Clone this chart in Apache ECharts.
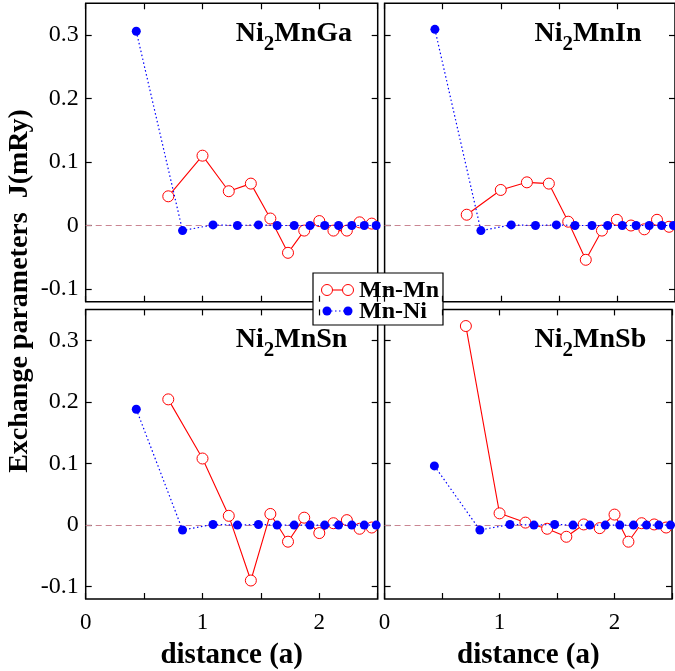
<!DOCTYPE html>
<html>
<head>
<meta charset="utf-8">
<script src="https://cdn.jsdelivr.net/npm/echarts@6/dist/echarts.min.js"></script>
<style>
html,body{margin:0;padding:0;background:#fff;}
#chart{width:675px;height:671px;}
</style>
</head>
<body>
<div id="chart"></div>
<script>
// ---- data ----
const distMnMn = [0.707, 1.000, 1.225, 1.414, 1.581, 1.732, 1.871, 2.000, 2.121, 2.236, 2.345, 2.449];
const distMnNi = [0.433, 0.829, 1.090, 1.299, 1.479, 1.639, 1.785, 1.920, 2.046, 2.165, 2.278, 2.385, 2.487];

const gaMnMn = [0.046, 0.110, 0.054, 0.066, 0.011, -0.043, -0.008, 0.007, -0.008, -0.008, 0.005, 0.003];
const gaMnNi = [0.306, -0.008, 0.001, 0.000, 0.001, 0.000, 0.000, 0.000, 0.000, 0.000, 0.000, 0.000, 0.000];
const inMnMn = [0.017, 0.056, 0.068, 0.066, 0.006, -0.054, -0.008, 0.009, 0.000, -0.006, 0.009, -0.002];
const inMnNi = [0.309, -0.008, 0.001, 0.000, 0.001, 0.000, 0.000, 0.000, 0.000, 0.000, 0.000, 0.000, 0.000];
const snMnMn = [0.204, 0.108, 0.015, -0.090, 0.018, -0.027, 0.012, -0.013, 0.003, 0.008, -0.006, -0.004];
const snMnNi = [0.188, -0.008, 0.001, 0.000, 0.001, 0.000, 0.000, 0.000, 0.000, 0.000, 0.000, 0.000, 0.000];
const sbMnMn = [0.323, 0.019, 0.004, -0.006, -0.019, 0.001, -0.005, 0.017, -0.027, 0.003, 0.001, -0.004];
const sbMnNi = [0.096, -0.008, 0.001, 0.000, 0.001, 0.000, 0.000, 0.000, 0.000, 0.000, 0.000, 0.000, 0.000];

const compoundSuffix = ['MnGa', 'MnIn', 'MnSn', 'MnSb'];
const seriesNames = ['Mn-Mn', 'Mn-Ni'];
const yTickValues = [-0.1, 0, 0.1, 0.2, 0.3];
const xTickLabels = ['0', '1', '2'];
const xAxisName = 'distance (a)';
const yAxisName = 'Exchange parameters  J(mRy)';

const mnMnSets = [gaMnMn, inMnMn, snMnMn, sbMnMn];
const mnNiSets = [gaMnNi, inMnNi, snMnNi, sbMnNi];

// ---- layout ----
const FONT = "'Liberation Serif','Times New Roman',serif";
const grids = [
  {left: 85.7, top: 3.3, width: 292, height: 298.4},
  {left: 384.6, top: 3.3, width: 292, height: 298.4},
  {left: 85.7, top: 309.4, width: 292, height: 298.9},
  {left: 384.6, top: 309.4, width: 292, height: 298.9}
];

const xAxes = [], yAxes = [], series = [], titles = [];
grids.forEach((g, i) => {
  const bottomRow = i >= 2, leftCol = i % 2 === 0;
  const tick = {show: true, inside: true, length: 6, lineStyle: {color: '#000', width: 1.2}};
  xAxes.push({
    gridIndex: i, type: 'value', min: 0, max: 2.5, interval: 0.5, position: 'bottom',
    axisLine: {show: false, onZero: false}, axisTick: tick, splitLine: {show: false},
    axisLabel: {show: bottomRow, margin: 12, color: '#000', fontFamily: FONT, fontSize: 23,
      formatter: v => xTickLabels.includes(String(v)) ? String(v) : ''},
    name: bottomRow ? xAxisName : '', nameLocation: 'middle', nameGap: 42,
    nameTextStyle: {fontFamily: FONT, fontWeight: 'bold', fontSize: 29, color: '#000'}
  });
  xAxes.push({
    gridIndex: i, type: 'value', min: 0, max: 2.5, interval: 0.5, position: 'top',
    axisLine: {show: false, onZero: false}, axisTick: tick, splitLine: {show: false}, axisLabel: {show: false}
  });
  yAxes.push({
    gridIndex: i, type: 'value', min: -0.12, max: 0.35, position: 'left',
    axisLine: {show: false, onZero: false}, splitLine: {show: false},
    axisTick: Object.assign({customValues: yTickValues}, tick),
    axisLabel: {show: leftCol, customValues: yTickValues, margin: 7, color: '#000', fontFamily: FONT, fontSize: 24,
      formatter: v => (Math.abs(v) < 1e-9 ? '0' : v.toFixed(1))}
  });
  yAxes.push({
    gridIndex: i, type: 'value', min: -0.12, max: 0.35, position: 'right',
    axisLine: {show: false, onZero: false}, splitLine: {show: false},
    axisTick: Object.assign({customValues: yTickValues}, tick),
    axisLabel: {show: false}
  });
  series.push({
    name: seriesNames[0], type: 'line', xAxisIndex: 2 * i, yAxisIndex: 2 * i,
    data: distMnMn.map((d, k) => [d, mnMnSets[i][k]]),
    symbol: 'circle', symbolSize: 11, z: 2,
    lineStyle: {color: '#ff0000', width: 1.1},
    itemStyle: {color: '#ffffff', borderColor: '#ff0000', borderWidth: 1},
    markLine: {silent: true, symbol: 'none', label: {show: false}, z: 1,
      lineStyle: {color: '#c98592', width: 1.2, type: [6, 4]},
      data: [{yAxis: 0}]}
  });
  series.push({
    name: seriesNames[1], type: 'line', xAxisIndex: 2 * i, yAxisIndex: 2 * i,
    data: distMnNi.map((d, k) => [d, mnNiSets[i][k]]),
    symbol: 'circle', symbolSize: 9, z: 3,
    lineStyle: {color: '#0000ff', width: 1.2, type: [1.5, 2.5]},
    itemStyle: {color: '#0000ff'}
  });
  titles.push({
    text: '{b|Ni}{s|2}{b|' + compoundSuffix[i] + '}',
    left: g.left + 145, top: g.top + 10,
    textStyle: {rich: {
      b: {fontFamily: FONT, fontWeight: 'bold', fontSize: 28, color: '#000', lineHeight: 30},
      s: {fontFamily: FONT, fontWeight: 'bold', fontSize: 21, color: '#000', lineHeight: 30, padding: [22, 0, 0, 0]}
    }}
  });
});

const legendGraphic = {
  type: 'group', z: 100,
  children: [
    {type: 'rect', shape: {x: 313, y: 273, width: 130, height: 52}, style: {fill: '#fff', stroke: '#000', lineWidth: 1.2}},
    {type: 'line', shape: {x1: 332.5, y1: 290, x2: 342.5, y2: 290}, style: {stroke: '#ff0000', lineWidth: 1.1}},
    {type: 'circle', shape: {cx: 327, cy: 290, r: 5.5}, style: {fill: '#fff', stroke: '#ff0000', lineWidth: 1}},
    {type: 'circle', shape: {cx: 348, cy: 290, r: 5.5}, style: {fill: '#fff', stroke: '#ff0000', lineWidth: 1}},
    {type: 'text', x: 359, y: 291, style: {text: seriesNames[0], font: "bold 24px " + FONT, fill: '#000', verticalAlign: 'middle'}},
    {type: 'line', shape: {x1: 331, y1: 311, x2: 344, y2: 311}, style: {stroke: '#0000ff', lineWidth: 1.2, lineDash: [1.5, 2.5]}},
    {type: 'circle', shape: {cx: 327, cy: 311, r: 4.5}, style: {fill: '#0000ff'}},
    {type: 'circle', shape: {cx: 348, cy: 311, r: 4.5}, style: {fill: '#0000ff'}},
    {type: 'text', x: 359, y: 312, style: {text: seriesNames[1], font: "bold 24px " + FONT, fill: '#000', verticalAlign: 'middle'}}
  ]
};

const yNameGraphic = {
  type: 'text', x: 20, y: 291, rotation: Math.PI / 2, z: 10,
  style: {text: yAxisName, font: "bold 28px " + FONT, fill: '#000', align: 'center', verticalAlign: 'middle'}
};

const option = {
  animation: false,
  backgroundColor: '#fff',
  title: titles,
  grid: grids.map(g => Object.assign({show: true, borderColor: '#000', borderWidth: 1.5, backgroundColor: 'transparent'}, g)),
  xAxis: xAxes,
  yAxis: yAxes,
  series: series,
  graphic: [yNameGraphic, legendGraphic]
};

const chart = echarts.init(document.getElementById('chart'), null, {renderer: 'canvas'});
chart.setOption(option);
</script>
</body>
</html>
